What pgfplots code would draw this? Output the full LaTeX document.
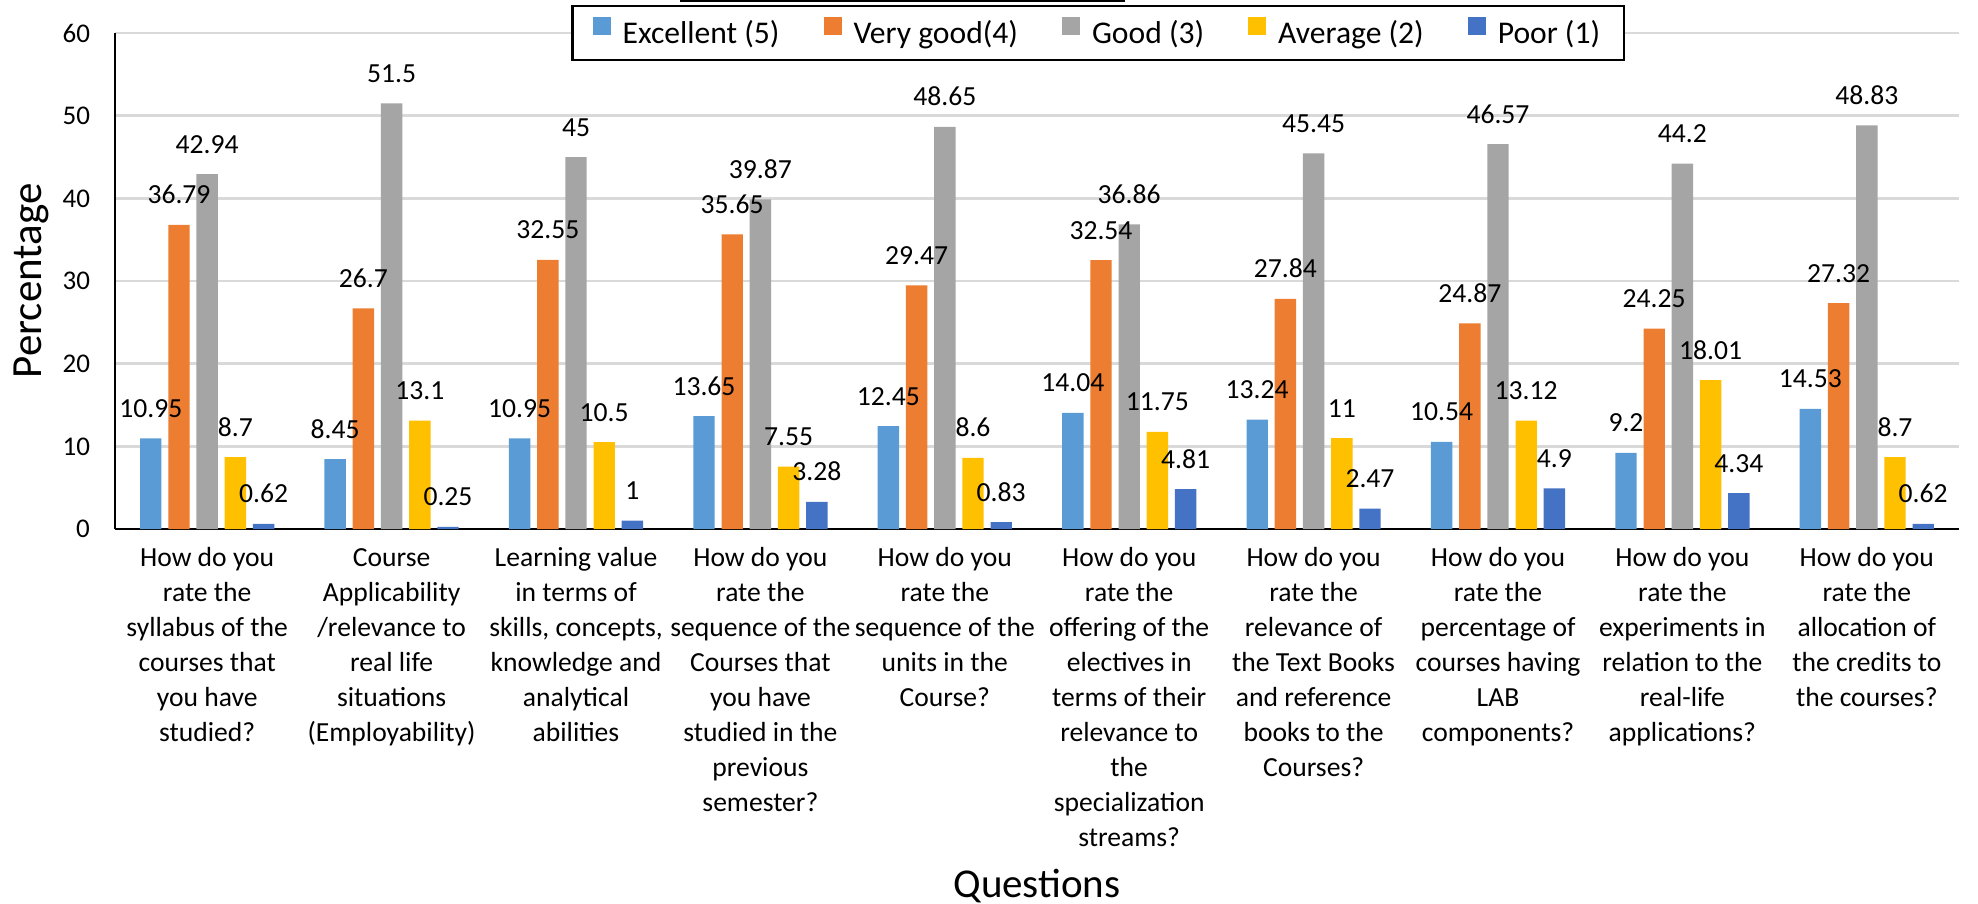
\documentclass[border=0pt]{standalone}
\usepackage{fontspec}
\setmainfont{Carlito}
\usepackage{pgfplots}
\pgfplotsset{compat=1.18}

\definecolor{cExc}{HTML}{5B9BD5}
\definecolor{cVg}{HTML}{ED7D31}
\definecolor{cGood}{HTML}{A5A5A5}
\definecolor{cAvg}{HTML}{FFC000}
\definecolor{cPoor}{HTML}{4472C4}
\definecolor{gridc}{HTML}{D9D9D9}

\newcommand{\fl}{\rule{0pt}{10.4pt}}

\begin{document}
\begin{tikzpicture}
\useasboundingbox (-57.5pt,-187.5pt) rectangle (931.5pt,264.5pt);
\begin{axis}[
    scale only axis,
    width=922pt, height=248pt,
    ybar=3.4pt, bar width=10.7pt,
    xmin=-0.5, xmax=9.5,
    ymin=0, ymax=60,
    enlargelimits=false,
    ytick={0,10,...,60},
    xtick={0,...,9},
    xticklabels={
      {\fl How do you\\rate the\\syllabus of the\\courses that\\you have\\studied?},
      {\fl Course\\Applicability\\/relevance to\\real life\\situations\\(Employability)},
      {\fl Learning value\\in terms of\\skills, concepts,\\knowledge and\\analytical\\abilities},
      {\fl How do you\\rate the\\sequence of the\\Courses that\\you have\\studied in the\\previous\\semester?},
      {\fl How do you\\rate the\\sequence of the\\units in the\\Course?},
      {\fl How do you\\rate the\\offering of the\\electives in\\terms of their\\relevance to\\the\\specialization\\streams?},
      {\fl How do you\\rate the\\relevance of\\the Text Books\\and reference\\books to the\\Courses?},
      {\fl How do you\\rate the\\percentage of\\courses having\\LAB\\components?},
      {\fl How do you\\rate the\\experiments in\\relation to the\\real-life\\applications?},
      {\fl How do you\\rate the\\allocation of\\the credits to\\the courses?}
    },
    xticklabel style={anchor=north, align=center, yshift=-4.6pt,
      font=\fontsize{13.8}{17.5}\selectfont},
    yticklabel style={font=\fontsize{13.5}{16}\selectfont, xshift=-9pt},
    major tick length=0pt,
    axis x line*=bottom, axis y line*=left,
    axis line style={-, black, line width=1.3pt},
    ymajorgrids,
    major grid style={gridc, line width=1.3pt},
    /pgf/number format/assume math mode=true,
    nodes near coords,
    every node near coord/.append style={anchor=base, yshift=10.5pt,
      font=\fontsize{13.8}{16}\selectfont, text=black},
    ylabel={Percentage},
    ylabel style={at={(axis description cs:-0.0455,0.5)}, anchor=center,
      font=\fontsize{21.5}{24}\selectfont},
    xlabel={Questions},
    xlabel style={at={(axis description cs:0.5,-0.742)}, anchor=base,
      font=\fontsize{20.5}{24}\selectfont},
    legend columns=5,
    legend style={at={(0.5333,1.0565)}, anchor=north, draw=black,
      line width=1.2pt, font=\fontsize{15.8}{18}\selectfont,
      inner xsep=10pt, inner ysep=5pt,
      /tikz/every odd column/.append style={column sep=4pt},
      /tikz/every even column/.append style={column sep=20pt}},
    legend image code/.code={\fill[#1, draw=none] (0pt,-1pt) rectangle (9pt,8pt);},
]
\addplot[fill=cExc, draw=none] coordinates {
  (0,10.95) (1,8.45) (2,10.95) (3,13.65) (4,12.45)
  (5,14.04) (6,13.24) (7,10.54) (8,9.2) (9,14.53)};
\addlegendentry{Excellent (5)}
\addplot[fill=cVg, draw=none] coordinates {
  (0,36.79) (1,26.7) (2,32.55) (3,35.65) (4,29.47)
  (5,32.54) (6,27.84) (7,24.87) (8,24.25) (9,27.32)};
\addlegendentry{Very good(4)}
\addplot[fill=cGood, draw=none] coordinates {
  (0,42.94) (1,51.5) (2,45) (3,39.87) (4,48.65)
  (5,36.86) (6,45.45) (7,46.57) (8,44.2) (9,48.83)};
\addlegendentry{Good (3)}
\addplot[fill=cAvg, draw=none] coordinates {
  (0,8.7) (1,13.1) (2,10.5) (3,7.55) (4,8.6)
  (5,11.75) (6,11) (7,13.12) (8,18.01) (9,8.7)};
\addlegendentry{Average (2)}
\addplot[fill=cPoor, draw=none] coordinates {
  (0,0.62) (1,0.25) (2,1) (3,3.28) (4,0.83)
  (5,4.81) (6,2.47) (7,4.9) (8,4.34) (9,0.62)};
\addlegendentry{Poor (1)}
\end{axis}
\draw[line width=1pt] (282.5pt,264pt) -- (505pt,264pt);
\end{tikzpicture}
\end{document}
